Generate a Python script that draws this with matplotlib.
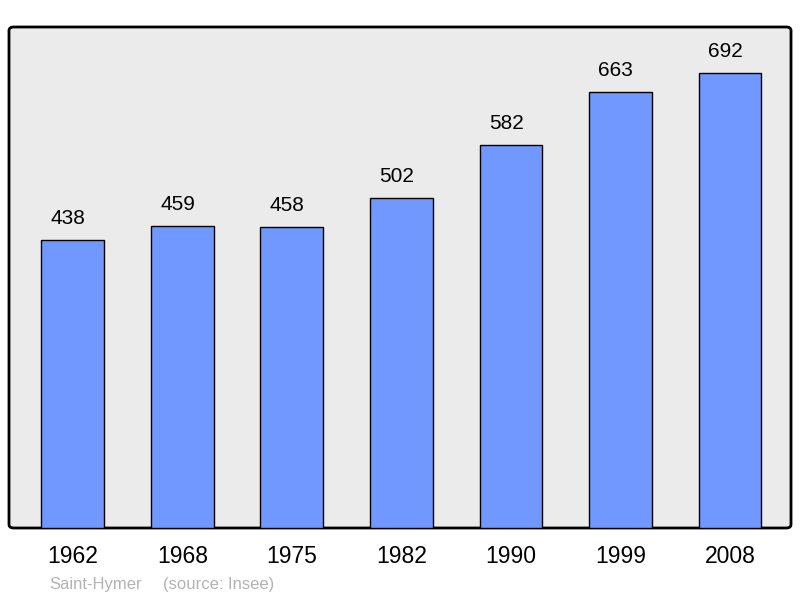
import matplotlib
matplotlib.use('Agg')
import matplotlib.pyplot as plt
from matplotlib.patches import FancyBboxPatch

plt.rcParams['font.family'] = ['Liberation Sans', 'DejaVu Sans']

# donnees de population
annees = ['1962', '1968', '1975', '1982', '1990', '1999', '2008']
population = [438, 459, 458, 502, 582, 663, 692]
commune = 'Saint-Hymer'
source = '(source: Insee)'

fig = plt.figure(figsize=(8, 5.98), dpi=100)
ax = fig.add_axes([9/800, 70/598, 782/800, 501/598])
ax.set_facecolor('none')
ax.set_zorder(2)

# cadre gris arrondi
cadre = FancyBboxPatch((9/800, 70/598), 782/800, 501/598,
                       boxstyle='round,pad=0,rounding_size=0.006',
                       transform=fig.transFigure, facecolor='#ebebeb',
                       edgecolor='black', linewidth=2, zorder=0)
fig.patches.append(cadre)

x = range(len(annees))
ax.bar(x, population, width=0.575, color='#7098ff', edgecolor='black',
       linewidth=1, zorder=2)
# etiquettes un peu a gauche du centre, comme sur l'original
for i, v in zip(x, population):
    ax.annotate(str(v), (i, v), xytext=(-3.5, 15.5), textcoords='offset points',
                ha='center', va='center', fontsize=15)

ax.set_xlim(-0.584, 6.557)
ax.set_ylim(0, 762)
ax.set_xticks(list(x))
ax.set_xticklabels(annees, fontsize=16.5)
ax.tick_params(axis='x', length=0, pad=12.5)
ax.set_yticks([])
for s in ax.spines.values():
    s.set_visible(False)

fig.text(49/800, 1 - 584/598, commune, fontsize=12,
         color='#b3b3b3', va='center', ha='left')
fig.text(163/800, 1 - 584/598, source, fontsize=12,
         color='#b3b3b3', va='center', ha='left')

fig.savefig('out.png', dpi=100)
